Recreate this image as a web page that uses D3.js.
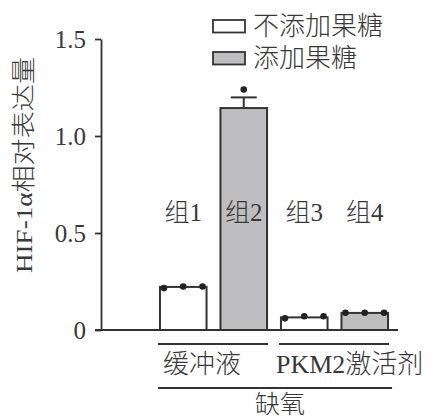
<!DOCTYPE html>
<html>
<head>
<meta charset="utf-8">
<script src="https://cdn.jsdelivr.net/npm/d3@7"></script>
<style>
  html, body { margin: 0; padding: 0; background: #fff; }
  svg text { font-family: "Liberation Serif", "Noto Sans CJK SC", serif; fill: #383838; font-weight: 300; }
</style>
</head>
<body>
<svg id="chart" width="434" height="417"></svg>
<script>
// Groups and their treatment (fructose or not)
const groups = ["组1", "组2", "组3", "组4"];
const fructose = [false, true, false, true];
// Mean relative HIF-1α expression per group
const means = [0.222, 1.144, 0.065, 0.088];
// Error (upper whisker) per group
const errors = [0, 0.055, 0, 0];
// Individual replicates: group index, slot (-1 left, 0 centre, 1 right), value
const repGroup = [0, 0, 0, 1, 2, 2, 2, 3, 3, 3];
const repSlot  = [-1, 0, 1, 0, -1, 0, 1, -1, 0, 1];
const repValue = [0.216, 0.224, 0.224, 1.24, 0.060, 0.071, 0.071, 0.089, 0.089, 0.089];
// Y axis ticks
const yTicks = [0, 0.5, 1.0, 1.5];
const yTickLabels = ["0", "0.5", "1.0", "1.5"];
// Legend entries
const legendLabels = ["不添加果糖", "添加果糖"];
// Treatment brackets under the axis
const treatLabels = ["缓冲液", "PKM2激活剂"];
const treatSpans = [[0, 1], [2, 3]];
const conditionLabel = "缺氧";
const yTitle = "HIF-1α相对表达量";

const ink = "#333";
const grey = "#bebdbf";

const svg = d3.select("#chart");

const y = d3.scaleLinear().domain([0, 1.5]).range([330, 39]);
const x = d3.scaleBand().domain(groups).range([153, 395])
  .paddingInner(0.23).paddingOuter(0.115);
const bw = x.bandwidth();
const axisX = 101;

// Y axis
const yAxis = d3.axisLeft(y).tickValues(yTicks)
  .tickFormat((d, i) => yTickLabels[i]).tickSize(6).tickSizeOuter(0).tickPadding(9);
const gy = svg.append("g").attr("transform", `translate(${axisX},0)`).call(yAxis);
gy.select(".domain").attr("stroke", ink).attr("stroke-width", 1.8);
gy.selectAll(".tick line").attr("stroke", ink).attr("stroke-width", 1.8);
gy.selectAll(".tick text").attr("font-size", 25).attr("fill", "#383838")
  .attr("font-family", "Liberation Serif");

// Baseline
svg.append("line")
  .attr("x1", axisX - 6).attr("x2", 398)
  .attr("y1", y(0)).attr("y2", y(0))
  .attr("stroke", ink).attr("stroke-width", 2);

// Y title
svg.append("text")
  .attr("transform", `translate(24,${(57 + 273) / 2}) rotate(-90)`)
  .attr("text-anchor", "middle").attr("dominant-baseline", "central")
  .attr("font-size", 24)
  .attr("textLength", 216).attr("lengthAdjust", "spacingAndGlyphs")
  .text(yTitle);

// Bars
svg.append("g").selectAll("rect").data(groups).join("rect")
  .attr("x", d => x(d))
  .attr("y", (d, i) => y(means[i]))
  .attr("width", bw)
  .attr("height", (d, i) => y(0) - y(means[i]))
  .attr("fill", (d, i) => fructose[i] ? grey : "#fff")
  .attr("stroke", ink).attr("stroke-width", 2);

// Error whiskers
const eg = svg.append("g").attr("stroke", ink).attr("stroke-width", 2);
groups.forEach((g, i) => {
  if (!errors[i]) return;
  const cx = x(g) + bw / 2;
  const top = y(means[i] + errors[i]);
  eg.append("line").attr("x1", cx).attr("x2", cx).attr("y1", y(means[i])).attr("y2", top);
  eg.append("line").attr("x1", cx - 13).attr("x2", cx + 13).attr("y1", top).attr("y2", top);
});

// Replicate points
svg.append("g").selectAll("circle").data(repValue).join("circle")
  .attr("cx", (v, i) => x(groups[repGroup[i]]) + bw / 2 + repSlot[i] * (bw / 2 - 4))
  .attr("cy", v => y(v))
  .attr("r", 3.3)
  .attr("fill", "#222");

// Group labels above the bars
svg.append("g").selectAll("text").data(groups).join("text")
  .attr("x", d => x(d) + bw / 2)
  .attr("y", 212)
  .attr("text-anchor", "middle").attr("dominant-baseline", "central")
  .attr("font-size", 25)
  .text(d => d);

// Treatment brackets
treatSpans.forEach((span, k) => {
  const x1 = x(groups[span[0]]) - 2;
  const x2 = x(groups[span[1]]) + bw + 1;
  svg.append("line").attr("x1", x1).attr("x2", x2).attr("y1", 344).attr("y2", 344)
    .attr("stroke", ink).attr("stroke-width", 1.8);
  svg.append("text")
    .attr("x", k === 0 ? x1 + 5 : x1 - 3).attr("y", 364)
    .attr("text-anchor", "start").attr("dominant-baseline", "central")
    .attr("font-size", 26)
    .text(treatLabels[k]);
});

// Condition bracket
{
  const x1 = x(groups[0]) - 2;
  const x2 = x(groups[groups.length - 1]) + bw + 4;
  svg.append("line").attr("x1", x1).attr("x2", x2).attr("y1", 388).attr("y2", 388)
    .attr("stroke", ink).attr("stroke-width", 1.8);
  svg.append("text")
    .attr("x", (x1 + x2) / 2 + 5).attr("y", 404)
    .attr("text-anchor", "middle").attr("dominant-baseline", "central")
    .attr("font-size", 25)
    .text(conditionLabel);
}

// Legend
const lg = svg.append("g");
legendLabels.forEach((lab, i) => {
  const cy = 26 + i * 32;
  lg.append("rect")
    .attr("x", 213).attr("y", cy - 6).attr("width", 32).attr("height", 12.5)
    .attr("fill", i === 0 ? "#fff" : grey)
    .attr("stroke", ink).attr("stroke-width", 1.8);
  lg.append("text")
    .attr("x", 253).attr("y", cy)
    .attr("dominant-baseline", "central")
    .attr("font-size", 26)
    .text(lab);
});
</script>
</body>
</html>
